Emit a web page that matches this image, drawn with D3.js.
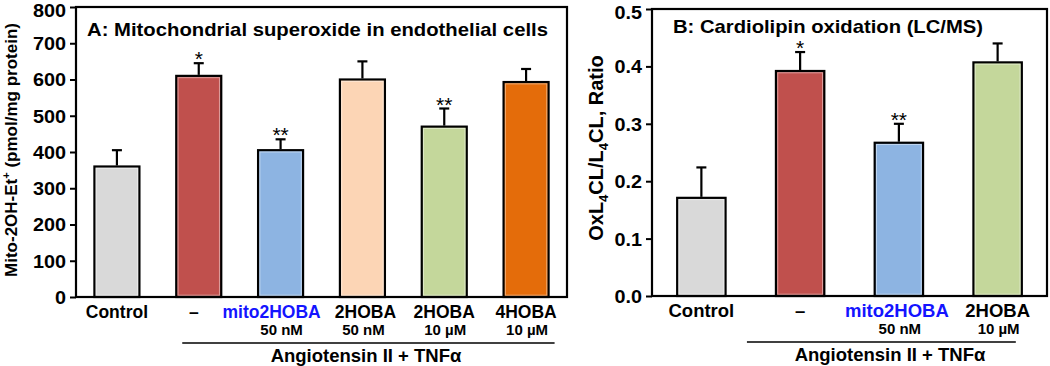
<!DOCTYPE html>
<html>
<head>
<meta charset="utf-8">
<script src="https://cdn.jsdelivr.net/npm/d3@7"></script>
<style>
  body { margin: 0; background: #fff; }
  svg { font-family: Arial, "Liberation Sans", sans-serif; font-weight: bold; }
</style>
</head>
<body>
<svg id="chart" width="1050" height="366"></svg>
<script>
// panel A data
const labelsA = ['Control', '–', 'mito2HOBA', '2HOBA', '2HOBA', '4HOBA'];
const dosesA = ['', '', '50 nM', '50 nM', '10 µM', '10 µM'];
const valuesA = [360, 610, 405, 600, 470, 593];
const errorsA = [45, 35, 30, 50, 50, 36];
const starsA = ['', '*', '**', '', '**', ''];
const ticksA = [0, 100, 200, 300, 400, 500, 600, 700, 800];

// panel B data
const labelsB = ['Control', '–', 'mito2HOBA', '2HOBA'];
const dosesB = ['', '', '50 nM', '10 µM'];
const valuesB = [0.171, 0.392, 0.267, 0.407];
const errorsB = [0.053, 0.033, 0.033, 0.033];
const starsB = ['', '*', '**', ''];
const ticksB = [0, 0.1, 0.2, 0.3, 0.4, 0.5];

const colorsA = ['#d9d9d9', '#c0504d', '#8db4e2', '#fcd5b5', '#c4d79b', '#e46c0a'];
const colorsB = ['#d9d9d9', '#c0504d', '#8db4e2', '#c4d79b'];

const svg = d3.select('#chart');

function drawPanel(opt) {
  let {x0, x1, y0, y1, labels, doses, values, errors, stars, ticks, colors, pad, fmt,
    tickFont, labFont, labShift, brL, brR, groupX} = opt;

  let x = d3.scaleBand()
    .domain(d3.range(labels.length))
    .range([x0, x1])
    .paddingInner(pad)
    .paddingOuter(pad / 2);

  let y = d3.scaleLinear()
    .domain([0, ticks[ticks.length - 1]])
    .range([y1, y0]);

  let g = svg.append('g');
  let cx = i => x(i) + x.bandwidth() / 2;

  /*坐标轴*/
  let sx = 1.1;
  let axis = g.append('g')
    .attr('transform', `translate(${x0},0)`)
    .call(d3.axisLeft(y).tickValues(ticks).tickFormat(fmt).tickSize(6).tickSizeOuter(0));
  axis.select('.domain').remove();
  axis.selectAll('line').attr('stroke', '#000').attr('stroke-width', 2);
  axis.selectAll('text')
    .attr('x', -10 / sx)
    .attr('dy', (d, i) => i === ticks.length - 1 ? '0.5em' : '0.36em')
    .attr('transform', `scale(${sx},1)`)
    .style('font-size', tickFont + 'px')
    .style('font-family', 'Arial, "Liberation Sans", sans-serif')
    .style('font-weight', 'bold')
    .attr('fill', '#000');

  /*柱子*/
  g.selectAll('rect.bar')
    .data(values)
    .enter()
    .append('rect')
    .attr('class', 'bar')
    .attr('x', (d, i) => x(i))
    .attr('y', d => y(d))
    .attr('width', x.bandwidth())
    .attr('height', d => y(0) - y(d))
    .attr('fill', (d, i) => colors[i])
    .attr('stroke', '#000')
    .attr('stroke-width', 2.2);

  // 内侧浅色描边
  g.selectAll('rect.inner')
    .data(values)
    .enter()
    .append('rect')
    .attr('class', 'inner')
    .attr('x', (d, i) => x(i) + 1.8)
    .attr('y', d => y(d) + 1.8)
    .attr('width', x.bandwidth() - 3.6)
    .attr('height', d => Math.max(0, y(0) - y(d) - 3.6))
    .attr('fill', 'none')
    .attr('stroke', '#fff')
    .attr('stroke-opacity', 0.45)
    .attr('stroke-width', 1);

  /*误差线*/
  let err = g.selectAll('g.err')
    .data(values)
    .enter()
    .append('g')
    .attr('class', 'err')
    .attr('stroke', '#000')
    .attr('stroke-width', 2.2);
  err.append('line')
    .attr('x1', (d, i) => cx(i))
    .attr('x2', (d, i) => cx(i))
    .attr('y1', d => y(d) - 1)
    .attr('y2', (d, i) => y(d + errors[i]));
  err.append('line')
    .attr('x1', (d, i) => cx(i) - 5)
    .attr('x2', (d, i) => cx(i) + 5)
    .attr('y1', (d, i) => y(d + errors[i]))
    .attr('y2', (d, i) => y(d + errors[i]));

  /*星号*/
  g.selectAll('text.star')
    .data(values)
    .enter()
    .append('text')
    .attr('class', 'star')
    .attr('x', (d, i) => cx(i))
    .attr('y', (d, i) => y(d + errors[i]) + 3)
    .attr('text-anchor', 'middle')
    .style('font-size', '21px')
    .style('font-weight', 'normal')
    .text((d, i) => stars[i]);

  /*边框*/
  g.append('rect')
    .attr('x', x0)
    .attr('y', y0)
    .attr('width', x1 - x0)
    .attr('height', y1 - y0)
    .attr('fill', 'none')
    .attr('stroke', '#000')
    .attr('stroke-width', 2.2);

  /*x标签*/
  g.selectAll('text.lab')
    .data(labels)
    .enter()
    .append('text')
    .attr('class', 'lab')
    .attr('x', (d, i) => cx(i) + labShift[i])
    .attr('y', y1 + 21)
    .attr('text-anchor', 'middle')
    .style('font-size', labFont + 'px')
    .attr('fill', d => d === 'mito2HOBA' ? '#1414ff' : '#000')
    .text(d => d);

  g.selectAll('text.dose')
    .data(doses)
    .enter()
    .append('text')
    .attr('class', 'dose')
    .attr('x', (d, i) => cx(i) + 1)
    .attr('y', y1 + 38)
    .attr('text-anchor', 'middle')
    .style('font-size', '15px')
    .text(d => d);

  /*处理组括线*/
  let bx0 = x(1) + brL;
  let bx1 = x(labels.length - 1) + x.bandwidth() + brR;
  g.append('line')
    .attr('x1', bx0)
    .attr('x2', bx1)
    .attr('y1', y1 + 46)
    .attr('y2', y1 + 46)
    .attr('stroke', '#000')
    .attr('stroke-width', 1.5);
  g.append('text')
    .attr('x', groupX)
    .attr('y', y1 + 65)
    .attr('text-anchor', 'middle')
    .style('font-size', '18.5px')
    .text('Angiotensin II + TNFα');

  return {x, y};
}

drawPanel({
  x0: 76, x1: 567, y0: 7, y1: 297,
  labels: labelsA, doses: dosesA, values: valuesA, errors: errorsA, stars: starsA,
  ticks: ticksA, colors: colorsA, pad: 0.45, fmt: d3.format('d'),
  tickFont: 18, labFont: 17.5, labShift: [0, -5, -9, 3, 0, 0],
  brL: 6, brR: 6, groupX: 366
});

drawPanel({
  x0: 652, x1: 1047, y0: 9, y1: 296,
  labels: labelsB, doses: dosesB, values: valuesB, errors: errorsB, stars: starsB,
  ticks: ticksB, colors: colorsB, pad: 0.51, fmt: d3.format('.1f'),
  tickFont: 18, labFont: 18.5, labShift: [0, 0, -2, 0],
  brL: -29, brR: -6, groupX: 890
});

// titles
svg.append('text')
  .attr('x', 87).attr('y', 36)
  .attr('textLength', 461)
  .attr('lengthAdjust', 'spacingAndGlyphs')
  .style('font-size', '19px')
  .text('A: Mitochondrial superoxide in endothelial cells');
svg.append('text')
  .attr('x', 673).attr('y', 33)
  .attr('textLength', 310)
  .attr('lengthAdjust', 'spacingAndGlyphs')
  .style('font-size', '19px')
  .text('B: Cardiolipin oxidation (LC/MS)');

// y axis titles
let ta = svg.append('text')
  .attr('transform', 'translate(17,150) rotate(-90)')
  .attr('text-anchor', 'middle')
  .style('font-size', '17px');
ta.append('tspan').text('Mito-2OH-Et');
ta.append('tspan').attr('dy', -7).style('font-size', '11px').text('+');
ta.append('tspan').attr('dy', 7).text(' (pmol/mg protein)');

let tb = svg.append('text')
  .attr('transform', 'translate(603,148) rotate(-90)')
  .attr('text-anchor', 'middle')
  .style('font-size', '20px');
tb.append('tspan').text('OxL');
tb.append('tspan').attr('dy', 5).style('font-size', '13px').text('4');
tb.append('tspan').attr('dy', -5).text('CL/L');
tb.append('tspan').attr('dy', 5).style('font-size', '13px').text('4');
tb.append('tspan').attr('dy', -5).text('CL, Ratio');
</script>
</body>
</html>
